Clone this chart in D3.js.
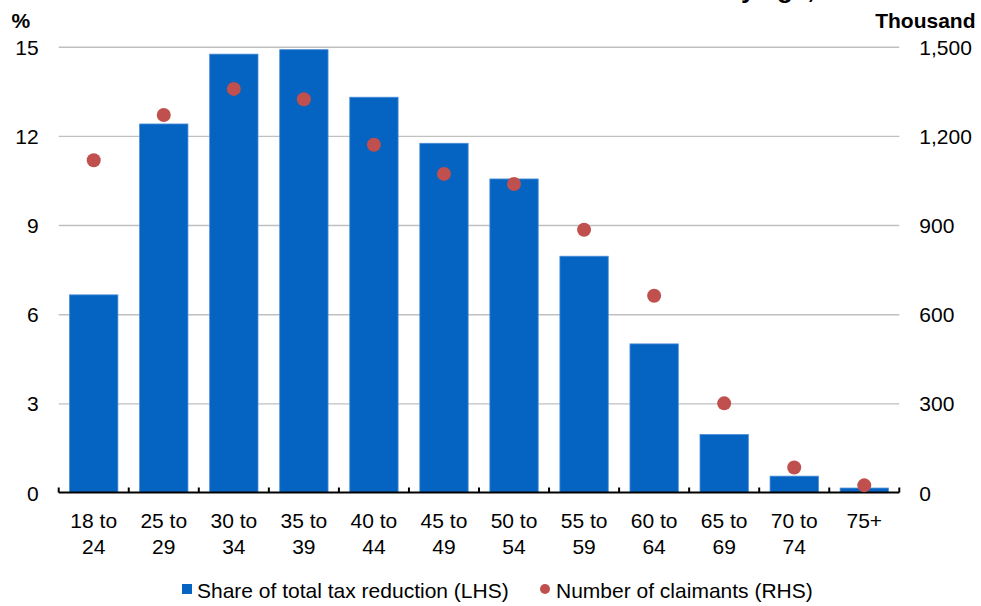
<!DOCTYPE html>
<html>
<head>
<meta charset="utf-8">
<script src="https://cdn.jsdelivr.net/npm/d3@7"></script>
<style>
  html, body { margin: 0; padding: 0; background: #fff; }
  svg { display: block; font-family: "Liberation Sans", Arial, sans-serif; }
</style>
</head>
<body>
<svg id="chart" width="981" height="606"></svg>
<script>
// ---- data ----
const categories = ["18 to 24", "25 to 29", "30 to 34", "35 to 39", "40 to 44", "45 to 49",
                    "50 to 54", "55 to 59", "60 to 64", "65 to 69", "70 to 74", "75+"];
const shareOfTaxReduction = [6.65, 12.4, 14.75, 14.9, 13.3, 11.75, 10.55, 7.95, 5.0, 1.95, 0.55, 0.15]; // % (LHS)
const numberOfClaimants = [1118, 1270, 1358, 1323, 1170, 1072, 1038, 884, 662, 300, 84, 24];         // thousand (RHS)
const leftTicks = [0, 3, 6, 9, 12, 15];
const rightTicks = [0, 300, 600, 900, 1200, 1500];
const leftUnit = "%";
const rightUnit = "Thousand";
const legendLabels = ["Share of total tax reduction (LHS)", "Number of claimants (RHS)"];
const titleFragment = "by age,";

// ---- layout ----
const svg = d3.select("#chart");
const X0 = 58.7, X1 = 899.3, Y0 = 492.5, Y1 = 46.7;
const barColor = "#0563C1", dotColor = "#C0504D";
const fs = 21;

const x = d3.scaleBand().domain(categories).range([X0, X1]).paddingInner(0.31).paddingOuter(0.155);
const yL = d3.scaleLinear().domain([0, 15]).range([Y0, Y1]);
const yR = d3.scaleLinear().domain([0, 1500]).range([Y0, Y1]);

// clipped title
svg.append("text").attr("x", 725).attr("y", -2)
  .attr("font-size", 26).attr("font-weight", "bold").attr("fill", "#000")
  .text(titleFragment);

// gridlines
const grid = svg.append("g").attr("transform", `translate(${X0},0)`)
  .call(d3.axisLeft(yL).tickValues(leftTicks.filter(d => d > 0)).tickSize(-(X1 - X0)).tickFormat(""));
grid.select(".domain").remove();
grid.selectAll("line").attr("stroke", "#c0c0c0").attr("stroke-width", 1.4);

// left tick labels
const la = svg.append("g").attr("transform", `translate(${X0},0)`)
  .call(d3.axisLeft(yL).tickValues(leftTicks).tickSize(0).tickPadding(20).tickFormat(d3.format("d")));
la.select(".domain").remove();
la.selectAll("text").attr("font-size", fs).attr("font-family", "Liberation Sans, Arial, sans-serif")
  .attr("fill", "#000").attr("dy", "0.36em");

// right tick labels
const ra = svg.append("g").attr("transform", `translate(${X1},0)`)
  .call(d3.axisRight(yR).tickValues(rightTicks).tickSize(0).tickPadding(20).tickFormat(d3.format(",")));
ra.select(".domain").remove();
ra.selectAll("text").attr("font-size", fs).attr("font-family", "Liberation Sans, Arial, sans-serif")
  .attr("fill", "#000").attr("dy", "0.36em");

// unit labels
svg.append("text").attr("x", 11.5).attr("y", 28).attr("font-size", fs).attr("font-weight", "bold").text(leftUnit);
svg.append("text").attr("x", 975.5).attr("y", 28).attr("text-anchor", "end").attr("font-size", fs)
  .attr("font-weight", "bold").text(rightUnit);

// bars
svg.append("g").selectAll("rect").data(categories).join("rect")
  .attr("x", d => x(d))
  .attr("width", x.bandwidth())
  .attr("y", (d, i) => yL(shareOfTaxReduction[i]))
  .attr("height", (d, i) => Y0 - yL(shareOfTaxReduction[i]))
  .attr("fill", barColor)
  .attr("stroke", "#4b8ed8").attr("stroke-width", 0.8);

// x axis line + ticks (pointing up)
svg.append("line").attr("x1", X0).attr("x2", X1).attr("y1", Y0).attr("y2", Y0)
  .attr("stroke", "#000").attr("stroke-width", 2);
const step = x.step();
svg.append("g").selectAll("line").data(d3.range(categories.length + 1)).join("line")
  .attr("x1", i => X0 + i * step).attr("x2", i => X0 + i * step)
  .attr("y1", Y0).attr("y2", Y0 - 5)
  .attr("stroke", "#000").attr("stroke-width", 2);

// x labels (two lines)
const xl = svg.append("g").selectAll("text").data(categories).join("text")
  .attr("font-size", fs).attr("text-anchor", "middle").attr("fill", "#000");
xl.each(function(d) {
  const cx = x(d) + x.bandwidth() / 2;
  const m = d.match(/^(.*) (\S+)$/);
  const lines = d.includes(" to ") ? [d.slice(0, d.lastIndexOf(" ")), d.slice(d.lastIndexOf(" ") + 1)] : [d];
  d3.select(this).selectAll("tspan").data(lines).join("tspan")
    .attr("x", cx).attr("y", (l, j) => 528 + j * 25.5).text(l => l);
});

// dots
svg.append("g").selectAll("circle").data(categories).join("circle")
  .attr("cx", d => x(d) + x.bandwidth() / 2)
  .attr("cy", (d, i) => yR(numberOfClaimants[i]))
  .attr("r", 7)
  .attr("fill", dotColor);

// legend
const lg = svg.append("g");
lg.append("rect").attr("x", 182).attr("y", 584).attr("width", 10).attr("height", 10).attr("fill", barColor);
lg.append("text").attr("x", 197).attr("y", 598).attr("font-size", fs).text(legendLabels[0]);
lg.append("circle").attr("cx", 545).attr("cy", 589).attr("r", 5).attr("fill", dotColor);
lg.append("text").attr("x", 556).attr("y", 598).attr("font-size", fs).text(legendLabels[1]);
</script>
</body>
</html>
